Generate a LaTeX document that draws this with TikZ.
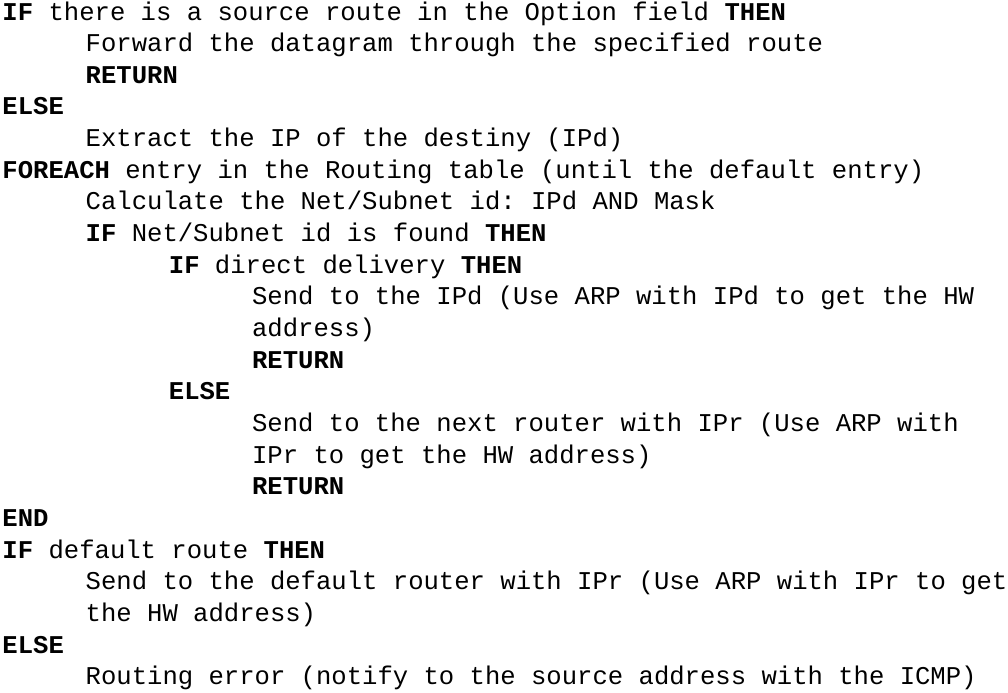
\documentclass[tikz,border=0pt]{standalone}
\usepackage{fontspec}
\newfontfamily\codefont{Liberation Mono}
\frenchspacing
\begin{document}
\begin{tikzpicture}[x=0.75pt,y=-0.75pt,
  codeline/.style={anchor=base west,inner sep=0pt,outer sep=0pt,
    font=\codefont\fontsize{19.2pt}{23.7pt}\selectfont,text=black}]
\fill[white] (0,0) rectangle (1008,693);
\useasboundingbox (0,0) rectangle (1008,693);
\def\la{2.5}\def\lb{85.7}\def\lc{168.9}\def\ld{252.1}
\node[codeline] (l1)  at (\la, 20.0)  {\textbf{IF} there is a source route in the Option field \textbf{THEN}};
\node[codeline] (l2)  at (\lb, 51.65) {Forward the datagram through the specified route};
\node[codeline] (l3)  at (\lb, 83.3)  {\textbf{RETURN}};
\node[codeline] (l4)  at (\la, 114.95){\textbf{ELSE}};
\node[codeline] (l5)  at (\lb, 146.6) {Extract the IP of the destiny (IPd)};
\node[codeline] (l6)  at (\la, 178.25){\textbf{FOREACH} entry in the Routing table (until the default entry)};
\node[codeline] (l7)  at (\lb, 209.9) {Calculate the Net/Subnet id: IPd AND Mask};
\node[codeline] (l8)  at (\lb, 241.55){\textbf{IF} Net/Subnet id is found \textbf{THEN}};
\node[codeline] (l9)  at (\lc, 273.2) {\textbf{IF} direct delivery \textbf{THEN}};
\node[codeline] (l10) at (\ld, 304.85){Send to the IPd (Use ARP with IPd to get the HW};
\node[codeline] (l11) at (\ld, 336.5) {address)};
\node[codeline] (l12) at (\ld, 368.15){\textbf{RETURN}};
\node[codeline] (l13) at (\lc, 399.8) {\textbf{ELSE}};
\node[codeline] (l14) at (\ld, 431.45){Send to the next router with IPr (Use ARP with};
\node[codeline] (l15) at (\ld, 463.1) {IPr to get the HW address)};
\node[codeline] (l16) at (\ld, 494.75){\textbf{RETURN}};
\node[codeline] (l17) at (\la, 526.4) {\textbf{END}};
\node[codeline] (l18) at (\la, 558.05){\textbf{IF} default route \textbf{THEN}};
\node[codeline] (l19) at (\lb, 589.7) {Send to the default router with IPr (Use ARP with IPr to get};
\node[codeline] (l20) at (\lb, 621.35){the HW address)};
\node[codeline] (l21) at (\la, 653.0) {\textbf{ELSE}};
\node[codeline] (l22) at (\lb, 684.65){Routing error (notify to the source address with the ICMP)};
\end{tikzpicture}
\end{document}
